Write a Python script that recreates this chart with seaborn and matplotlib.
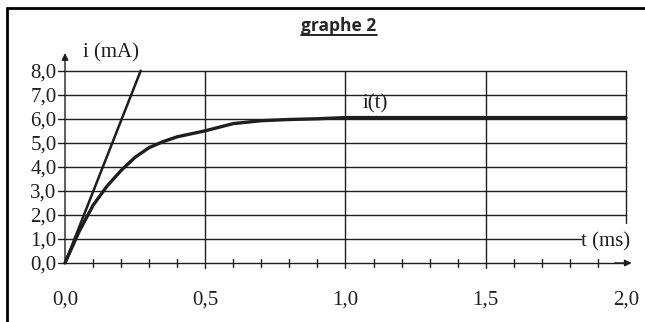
import matplotlib
matplotlib.use("Agg")
import matplotlib.pyplot as plt
import seaborn as sns
import pandas as pd

# courbe i(t)
t_ms = [0.0, 0.05, 0.10, 0.15, 0.20, 0.25, 0.30, 0.35, 0.40, 0.50, 0.60, 0.70, 0.80, 0.90, 1.00, 1.50, 2.00]
i_mA = [0.0, 1.3, 2.4, 3.2, 3.85, 4.4, 4.8, 5.05, 5.25, 5.5, 5.8, 5.92, 5.97, 6.0, 6.05, 6.05, 6.05]

# tangente a l'origine
tan_t = [0.0, 0.27]
tan_i = [0.0, 8.0]

x_ticks = [0.0, 0.5, 1.0, 1.5, 2.0]
x_labels = ["0,0", "0,5", "1,0", "1,5", "2,0"]
y_ticks = [0, 1, 2, 3, 4, 5, 6, 7, 8]
y_labels = ["0,0", "1,0", "2,0", "3,0", "4,0", "5,0", "6,0", "7,0", "8,0"]

sns.set_style("white")
plt.rcParams["font.family"] = ["Liberation Serif", "DejaVu Serif"]

fig = plt.figure(figsize=(6.45, 3.22), dpi=100)
ax = fig.add_axes([65 / 645, 59 / 322, 561 / 645, 192.3 / 322])

ink = "#1e1e1e"
fs = 15

# grille
for y in y_ticks[1:]:
    x_end = 1.84 if y == 1 else 2.0
    ax.plot([-0.025, x_end], [y, y], color=ink, lw=1, clip_on=False)
for x in [0.5, 1.0, 1.5]:
    ax.plot([x, x], [-0.22, 8], color=ink, lw=1, clip_on=False)
ax.plot([2.0, 2.0], [1.66, 8], color=ink, lw=1, clip_on=False)

# axes avec fleches
ax.plot([-0.025, 2.0], [0, 0], color=ink, lw=1, clip_on=False)
ax.annotate("", xy=(2.03, 0), xytext=(1.95, 0), annotation_clip=False,
            arrowprops=dict(arrowstyle="-|>", color=ink, lw=1, mutation_scale=10))
ax.annotate("", xy=(0, 8.85), xytext=(0, 0), annotation_clip=False,
            arrowprops=dict(arrowstyle="-|>", color=ink, lw=1, mutation_scale=10))

# graduations secondaires
for k in range(1, 20):
    if k % 5:
        ax.plot([k / 10, k / 10], [-0.15, 0.15], color=ink, lw=1, clip_on=False)

df = pd.DataFrame({"t": t_ms, "i": i_mA})
sns.lineplot(data=df, x="t", y="i", ax=ax, color=ink, lw=2.4, clip_on=False)
sns.lineplot(x=tan_t, y=tan_i, ax=ax, color=ink, lw=1.8, clip_on=False)

ax.set_xlim(0, 2)
ax.set_ylim(0, 8)
for s in ax.spines.values():
    s.set_visible(False)
ax.set_xlabel("")
ax.set_ylabel("")
ax.set_xticks(x_ticks)
ax.set_xticklabels(x_labels, fontsize=fs)
ax.set_yticks(y_ticks)
ax.set_yticklabels(y_labels, fontsize=fs)
ax.tick_params(axis="x", length=0, pad=20, colors=ink)
ax.tick_params(axis="y", length=0, pad=6, colors=ink)

ax.text(0.065, 8.75, "i (mA)", fontsize=fs, color=ink, va="center", ha="left")
ax.text(1.06, 6.6, "i(t)", fontsize=fs, color=ink, va="center", ha="left")
ax.text(1.84, 0.9, "t (ms)", fontsize=fs, color=ink, va="center", ha="left")

fig.text(339 / 645, 1 - 26 / 322, "graphe 2", fontsize=12.5, fontweight="bold",
         family=["Open Sans", "DejaVu Sans"], ha="center", va="center")
fig.add_artist(plt.Line2D([301 / 645, 377 / 645], [1 - 35 / 322, 1 - 35 / 322],
                          color="black", lw=1.2))

# cadre
fig.add_artist(plt.Line2D([7 / 645, 7 / 645], [0, 1 - 8 / 322], color="black", lw=2))
fig.add_artist(plt.Line2D([7 / 645, 1], [1 - 8 / 322, 1 - 8 / 322], color="black", lw=2))

fig.savefig("out.png", dpi=100)
